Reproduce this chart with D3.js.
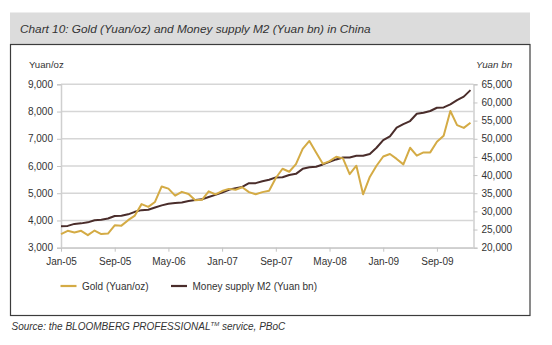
<!DOCTYPE html>
<html><head><meta charset="utf-8">
<script src="https://cdn.jsdelivr.net/npm/d3@7"></script>
<style>
body{margin:0;background:#fff;}
svg{display:block;font-family:"Liberation Sans",Arial,sans-serif;}
</style></head>
<body><svg id="c" width="552" height="345"></svg>
<script>
const months = ["Jan-05","Feb-05","Mar-05","Apr-05","May-05","Jun-05","Jul-05","Aug-05","Sep-05","Oct-05","Nov-05","Dec-05",
"Jan-06","Feb-06","Mar-06","Apr-06","May-06","Jun-06","Jul-06","Aug-06","Sep-06","Oct-06","Nov-06","Dec-06",
"Jan-07","Feb-07","Mar-07","Apr-07","May-07","Jun-07","Jul-07","Aug-07","Sep-07","Oct-07","Nov-07","Dec-07",
"Jan-08","Feb-08","Mar-08","Apr-08","May-08","Jun-08","Jul-08","Aug-08","Sep-08","Oct-08","Nov-08","Dec-08",
"Jan-09","Feb-09","Mar-09","Apr-09","May-09","Jun-09","Jul-09","Aug-09","Sep-09","Oct-09","Nov-09","Dec-09",
"Jan-10","Feb-10"];
const gold = [3500,3620,3560,3620,3460,3630,3500,3520,3820,3810,4010,4180,
4600,4500,4680,5250,5170,4910,5050,4970,4740,4760,5070,4960,
5080,5160,5130,5220,5040,4960,5040,5090,5560,5900,5790,6070,
6630,6920,6500,6080,6180,6340,6280,5700,6010,4960,5600,6010,
6350,6440,6260,6060,6670,6380,6500,6500,6890,7110,8020,7500,
7400,7590];
const m2 = [25900,26000,26560,26700,26980,27580,27700,28030,28740,28800,29190,29880,
30340,30450,31050,31650,32090,32280,32470,32860,33160,33310,33980,34560,
35170,35970,36410,36720,37760,37780,38310,38720,39360,39420,40040,40340,
41720,42130,42310,42930,43640,44310,44830,44860,45300,45300,45820,47520,
49620,50690,53060,54050,54880,56890,57170,57650,58540,58630,59460,60620,
61600,63400];
const xTickLabels = ["Jan-05","Sep-05","May-06","Jan-07","Sep-07","May-08","Jan-09","Sep-09"];
const leftTicks = [3000,4000,5000,6000,7000,8000,9000];
const rightTicks = [20000,25000,30000,35000,40000,45000,50000,55000,60000,65000];
const seriesNames = ["Gold (Yuan/oz)","Money supply M2 (Yuan bn)"];
const colors = ["#d4ab45","#4a2d2b"];

const svg = d3.select("#c");
const L = 61, R = 473.5, T = 84.3, B = 247.7;

// title band + box
svg.append("rect").attr("x",10).attr("y",12.5).attr("width",520).attr("height",32).attr("fill","#dcdcdc");
svg.append("text").attr("x",20).attr("y",33).attr("font-size",11.8).attr("font-style","italic").attr("fill","#333")
  .text("Chart 10: Gold (Yuan/oz) and Money supply M2 (Yuan bn) in China");
svg.append("rect").attr("x",10.5).attr("y",44.5).attr("width",519.5).attr("height",271).attr("fill","#fff")
  .attr("stroke","#3c3c3c").attr("stroke-width",1.2);

const x = d3.scaleLinear().domain([0, months.length-1]).range([L, 470.5]);
const yL = d3.scaleLinear().domain([3000,9000]).range([B,T]);
const yR = d3.scaleLinear().domain([20000,65000]).range([B,T]);

// gridlines
svg.append("g").selectAll("line").data(leftTicks).join("line")
  .attr("x1",L).attr("x2",R).attr("y1",d=>yL(d)).attr("y2",d=>yL(d))
  .attr("stroke","#d6d6d6").attr("stroke-width",1.6);

const fmt = d3.format(",");
const gL = svg.append("g").attr("transform",`translate(${L},0)`)
  .call(d3.axisLeft(yL).tickValues(leftTicks).tickFormat(fmt).tickSize(4).tickPadding(4));
const gR = svg.append("g").attr("transform",`translate(${R},0)`)
  .call(d3.axisRight(yR).tickValues(rightTicks).tickFormat(fmt).tickSize(4).tickPadding(4));
const tickIdx = xTickLabels.map(l => months.indexOf(l));
const gB = svg.append("g").attr("transform",`translate(0,${B})`)
  .call(d3.axisBottom(x).tickValues(tickIdx).tickFormat(i=>months[i]).tickSize(4).tickPadding(6));
gB.select(".domain").attr("d",`M${L},0.5H${R}`);
[gL,gR,gB].forEach(g=>{
  g.select(".domain").attr("stroke","#cfcfcf").attr("stroke-width",1.5);
  g.selectAll(".tick line").attr("stroke","#c4c4c4");
  g.selectAll("text").attr("font-size",10).attr("fill","#333").attr("font-family","Liberation Sans, Arial, sans-serif");
});

svg.append("text").attr("x",29).attr("y",67.5).attr("font-size",9.6).attr("fill","#333").text("Yuan/oz");
svg.append("text").attr("x",476).attr("y",67.5).attr("font-size",9.8).attr("font-style","italic").attr("fill","#333").text("Yuan bn");

// lines
const lineL = d3.line().x((d,i)=>x(i)).y(d=>yL(d));
const lineR = d3.line().x((d,i)=>x(i)).y(d=>yR(d));
svg.append("path").datum(m2).attr("d",lineR).attr("fill","none").attr("stroke",colors[1]).attr("stroke-width",2).attr("stroke-linejoin","round");
svg.append("path").datum(gold).attr("d",lineL).attr("fill","none").attr("stroke",colors[0]).attr("stroke-width",2).attr("stroke-linejoin","round");

// legend
const legX = [60.5,171];
seriesNames.forEach((n,i)=>{
  svg.append("line").attr("x1",legX[i]).attr("x2",legX[i]+16).attr("y1",286).attr("y2",286)
    .attr("stroke",colors[i]).attr("stroke-width",2.2);
  svg.append("text").attr("x",legX[i]+21.5).attr("y",289.5).attr("font-size",10).attr("fill","#333").text(n);
});

// source
const src = svg.append("text").attr("x",11.5).attr("y",329.5).attr("font-size",10).attr("font-style","italic").attr("fill","#333");
src.append("tspan").text("Source: the BLOOMBERG PROFESSIONAL");
src.append("tspan").attr("font-size",6).attr("dy",-3.5).text("TM");
src.append("tspan").attr("dy",3.5).text(" service, PBoC");
</script></body></html>
